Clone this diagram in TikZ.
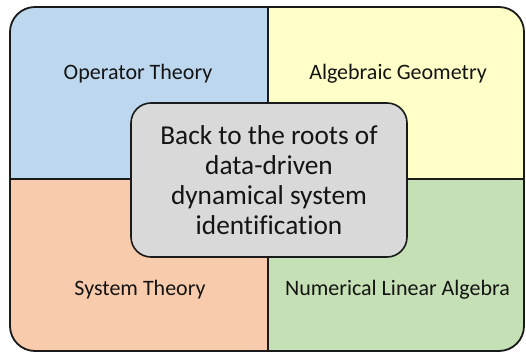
\documentclass[tikz,border=0pt]{standalone}
\usepackage{fontspec}
\setmainfont[Ligatures=NoCommon]{Carlito}
\definecolor{qblue}{HTML}{BDD7EE}
\definecolor{qyellow}{HTML}{FFFFC8}
\definecolor{qorange}{HTML}{F8CBAD}
\definecolor{qgreen}{HTML}{C5E0B4}
\definecolor{qgray}{HTML}{D9D9D9}
\definecolor{qline}{HTML}{1A1A1A}
\tikzset{
  quadlabel/.style={font=\fontsize{22}{26}\selectfont, anchor=base, inner sep=0pt, text=black!92},
  centerbox/.style={draw=qline, line width=1.6pt, fill=qgray, rounded corners=20pt,
    minimum width=276pt, minimum height=154pt, align=center,
    font=\fontsize{27.3}{30}\selectfont, text=black!92, inner sep=0pt},
}
\begin{document}
\begin{tikzpicture}[x=1pt,y=1pt]
\useasboundingbox (0,0) rectangle (526,353);
\coordinate (bl) at (10,2);
\coordinate (tr) at (524,346);
\coordinate (mid) at (268,174);
\begin{scope}
  \clip[rounded corners=25pt] (bl) rectangle (tr);
  \fill[qblue] (bl |- mid) rectangle (mid |- tr);
  \fill[qyellow] (mid) rectangle (tr);
  \fill[qorange] (bl) rectangle (mid);
  \fill[qgreen] (mid |- bl) rectangle (tr |- mid);
  \draw[qline, line width=1.6pt] (bl |- mid) -- (tr |- mid);
  \draw[qline, line width=1.6pt] (mid |- bl) -- (mid |- tr);
\end{scope}
\draw[qline, line width=1.8pt, rounded corners=25pt] (bl) rectangle (tr);
\node[quadlabel] (op) at (138,273) {Operator Theory};
\node[quadlabel] (ag) at (398,273) {Algebraic Geometry};
\node[quadlabel] (st) at (140,58) {System Theory};
\node[quadlabel] (nla) at (397.5,58) {Numerical Linear Algebra};
\node[centerbox] (c) at (269,173) {\raisebox{-3pt}{\parbox{270pt}{\centering Back to the roots of\\ data-driven\\ dynamical system\\ identification}}};
\end{tikzpicture}
\end{document}
